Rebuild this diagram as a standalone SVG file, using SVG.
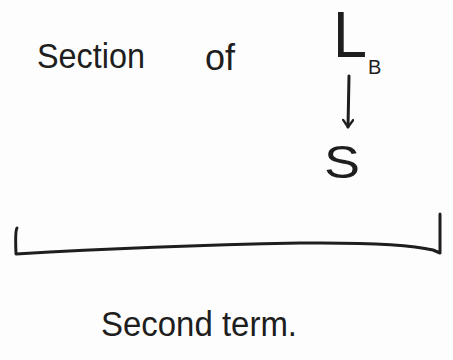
<svg xmlns="http://www.w3.org/2000/svg" width="453" height="360" viewBox="0 0 453 360">
<defs>
<style>
.t{font-family:"Liberation Sans",Arial,sans-serif;fill:#1e1e1e}
.ln{fill:none;stroke:#1e1e1e;stroke-width:3;stroke-linecap:round;stroke-linejoin:round}
</style>
<marker id="ah" viewBox="0 0 12 12" refX="10" refY="6" markerWidth="12" markerHeight="12" markerUnits="userSpaceOnUse" orient="auto">
<path d="M3 1 L10 6 L3 11" fill="none" stroke="#1e1e1e" stroke-width="2.4" stroke-linecap="round" stroke-linejoin="round"/>
</marker>
</defs>
<rect width="453" height="360" fill="#fdfdfd"/>
<g id="section-of">
<text class="t" x="37" y="68" font-size="35" textLength="108" lengthAdjust="spacingAndGlyphs">Section</text>
<text class="t" x="205" y="70" font-size="36" textLength="30" lengthAdjust="spacingAndGlyphs">of</text>
</g>
<g id="node-LB">
<text class="t" x="333" y="57" font-size="64" textLength="34" lengthAdjust="spacingAndGlyphs">L</text>
<text class="t" x="368" y="74" font-size="20">B</text>
</g>
<g id="node-S">
<text class="t" x="324" y="178" font-size="46" textLength="36" lengthAdjust="spacingAndGlyphs">S</text>
</g>
<g id="connectors">
<line class="ln" x1="349" y1="76" x2="348" y2="127" marker-end="url(#ah)"/>
</g>
<g id="bracket">
<path class="ln" d="M17 228 Q15 231 16 254 Q150 246 300 243 Q400 242 433 250 L440 253 L440 214"/>
</g>
<g id="label-second-term">
<text class="t" x="101" y="336" font-size="35" textLength="196" lengthAdjust="spacingAndGlyphs">Second term.</text>
</g>
</svg>
